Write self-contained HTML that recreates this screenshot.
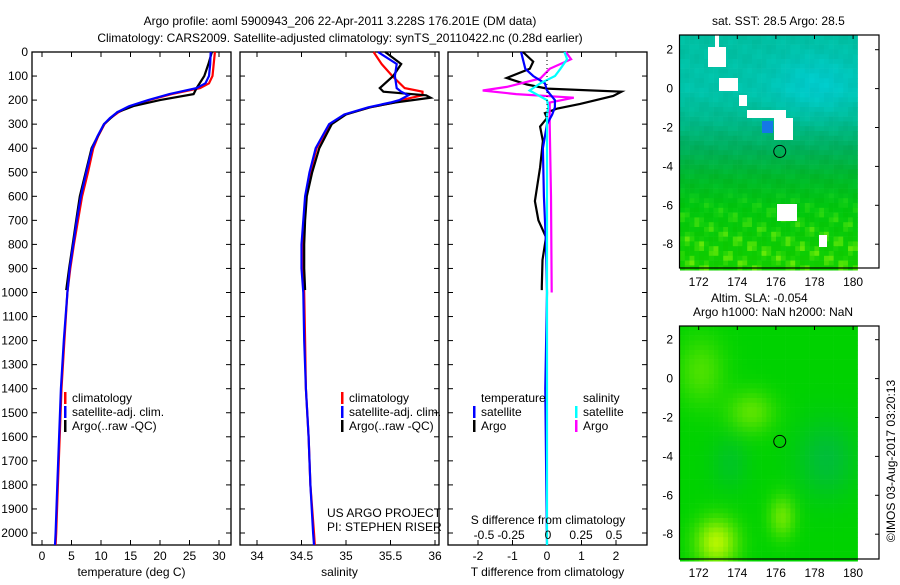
<!DOCTYPE html>
<html><head><meta charset="utf-8"><style>
body{margin:0;background:#fff;width:900px;height:580px;overflow:hidden;font-family:"Liberation Sans",sans-serif}
svg text{font-family:"Liberation Sans",sans-serif;font-size:12px;fill:#000}
</style></head><body>
<svg id="c" width="900" height="580" xmlns="http://www.w3.org/2000/svg">
<text x="340" y="25" text-anchor="middle" font-size="13">Argo profile: aoml 5900943_206 22-Apr-2011 3.228S 176.201E (DM data)</text>
<text x="340" y="42" text-anchor="middle" font-size="13">Climatology: CARS2009. Satellite-adjusted climatology: synTS_20110422.nc (0.28d earlier)</text>
</svg>
<script>
// ---- data ----
const depthTicks=[0,100,200,300,400,500,600,700,800,900,1000,1100,1200,1300,1400,1500,1600,1700,1800,1900,2000];
const tempTicks=[0,5,10,15,20,25,30];
const salTicks=[34,34.5,35,35.5,36];
const dTTicks=[-2,-1,0,1,2];
const dSTicks=[-0.5,-0.25,0,0.25,0.5];
const tClimD=[0,50,100,130,150,175,200,225,250,275,300,350,400,500,600,700,800,900,1000,1200,1400,1600,1800,2000,2060];
const tClim=[29.3,29.1,28.9,28.3,26.8,22,18.2,15,13,11.6,10.6,9.5,8.7,7.8,6.8,6.1,5.4,4.8,4.3,3.8,3.3,3.0,2.7,2.4,2.3];
const tSat=[28.6,28.5,28.3,27.7,26.2,21.6,18.0,14.8,12.8,11.5,10.5,9.4,8.5,7.5,6.6,5.9,5.3,4.7,4.3,3.7,3.2,2.9,2.6,2.3,2.2];
const tArgoD=[0,50,100,150,175,200,225,250,300,400,500,600,700,800,900,990];
const tArgo=[28.8,28.2,27.5,26.2,25.7,20,15.5,12.8,10.5,8.4,7.4,6.4,5.8,5.2,4.6,4.1];
const sClimD=[0,50,100,150,165,180,200,210,230,260,300,400,500,600,700,800,900,1000,1200,1400,1600,1800,2000,2060];
const sClim=[35.31,35.4,35.52,35.66,35.86,35.86,35.62,35.55,35.27,34.99,34.82,34.67,34.6,34.55,34.53,34.52,34.52,34.53,34.54,34.55,34.58,34.6,34.64,34.65];
const sSat=[35.36,35.57,35.55,35.57,35.62,35.7,35.6,35.5,35.25,34.98,34.81,34.66,34.59,34.54,34.52,34.5,34.5,34.52,34.53,34.55,34.58,34.6,34.63,34.64];
const sArgoD=[0,50,100,150,165,180,190,210,230,260,300,400,500,600,700,800,900,990];
const sArgo=[35.44,35.62,35.53,35.38,35.42,35.9,35.95,35.55,35.27,35.0,34.84,34.7,34.62,34.56,34.54,34.53,34.53,34.54];
const dD=[0,30,70,100,130,160,200,230,260,300,400,600,800,1000,1400,1800,2060];
const dTSat=[-0.75,-0.7,-0.63,-0.4,-0.06,0,0.23,0.23,0.15,0,-0.12,-0.09,-0.03,0,-0.05,-0.02,0];
const dSSat=[0.13,0.15,0.1,0.06,-0.05,-0.13,0,0.01,0,0,0,0,0,0,0,0,0];
const dTArgoD=[0,40,70,108,135,152,165,183,216,235,254,275,310,370,480,620,700,770,865,975,990];
const dTArgo=[-0.7,-0.4,-0.5,-1.17,-0.58,0,2.16,1.92,0.96,0.3,-0.06,0,-0.2,-0.12,-0.2,-0.35,-0.25,-0.03,-0.13,-0.15,-0.15];
const dSArgoD=[0,30,70,110,145,160,175,190,210,300,600,1000];
const dSArgo=[0.14,0.18,0.02,-0.05,-0.3,-0.48,-0.23,0.2,0.02,0.02,0.03,0.035];

const svg=document.getElementById('c');
const NS='http://www.w3.org/2000/svg';
function mk(tag,at,parent){const e=document.createElementNS(NS,tag);for(const k in at)e.setAttribute(k,at[k]);(parent||svg).appendChild(e);return e;}
const Y=d=>52+d*0.2405;
const YB=545;
const panels=[
 {x0:32,x1:231,fx:v=>42+v*5.9,ticks:tempTicks,label:'temperature (deg C)',name:'temperature-panel'},
 {x0:240,x1:439,fx:v=>257+(v-34)*89,ticks:salTicks,label:'salinity',name:'salinity-panel'},
 {x0:448,x1:647,fx:v=>547+v*34.5,ticks:dTTicks,label:'T difference from climatology',name:'difference-panel'}];
const fS=v=>547+v*134;
panels.forEach((p,i)=>{
 const g=mk('g',{});
 
 
 const r=mk('rect',{x:p.x0,y:52,width:p.x1-p.x0,height:YB-52,fill:'none',stroke:'#000','stroke-width':1.3},g);
 
 
 depthTicks.forEach(d=>{
  mk('line',{x1:p.x0,x2:p.x0+5,y1:Y(d),y2:Y(d),stroke:'#000'},g);
  mk('line',{x1:p.x1,x2:p.x1-5,y1:Y(d),y2:Y(d),stroke:'#000'},g);
  if(i==0){const t=mk('text',{x:28,y:Y(d)+4,'text-anchor':'end'},g);t.textContent=d;
   
   }
 });
 p.ticks.forEach(v=>{const x=p.fx(v);
  mk('line',{x1:x,x2:x,y1:52,y2:57,stroke:'#000'},g);
  mk('line',{x1:x,x2:x,y1:YB,y2:YB-5,stroke:'#000'},g);
  const t=mk('text',{x:x,y:560,'text-anchor':'middle'},g);t.textContent=v;
  
  
 });
 const xl=mk('text',{x:(p.x0+p.x1)/2,y:576,'text-anchor':'middle'},g);xl.textContent=p.label;
 
 
});
function line(ds,vs,fx,col,name){
 const pts=ds.map((d,k)=>fx(vs[k]).toFixed(1)+','+Math.min(YB,Y(d)).toFixed(1)).join(' ');
 const l=mk('polyline',{points:pts,fill:'none',stroke:col,'stroke-width':2.2});
 
 
}
const P=panels;
line(tClimD,tClim,P[0].fx,'#f00','temp-climatology-line');
line(tArgoD,tArgo,P[0].fx,'#000','temp-argo-line');
line(tClimD,tSat,P[0].fx,'#00f','temp-satellite-line');
line(sClimD,sClim,P[1].fx,'#f00','sal-climatology-line');
line(sArgoD,sArgo,P[1].fx,'#000','sal-argo-line');
line(sClimD,sSat,P[1].fx,'#00f','sal-satellite-line');
line(dTArgoD,dTArgo,P[2].fx,'#000','dT-argo-line');
line(dSArgoD,dSArgo,fS,'#f0f','dS-argo-line');
line(dD,dTSat,P[2].fx,'#00f','dT-satellite-line');
line(dD,dSSat,fS,'#0ff','dS-satellite-line');
mk('line',{x1:547,x2:547,y1:52,y2:120,stroke:'#000','stroke-dasharray':'1,3'});
function leg(x,y,col,txt,name){
 if(col)mk('rect',{x:x-8,y:y-10,width:2.5,height:12,fill:col});
 const t=mk('text',{x:x,y:y});t.textContent=txt;
 
 
}
[[72,'climatology','#f00'],[72,'satellite-adj. clim.','#00f'],[72,'Argo(..raw -QC)','#000']].forEach((e,k)=>{
 leg(72,402+k*14,e[2],e[1],'legend-entry');leg(349,402+k*14,e[2],e[1],'legend-entry');});
leg(481,402,null,'temperature','legend-header');leg(583,402,null,'salinity','legend-header');
leg(481,416,'#00f','satellite','legend-entry');leg(481,430,'#000','Argo','legend-entry');
leg(583,416,'#0ff','satellite','legend-entry');leg(583,430,'#f0f','Argo','legend-entry');
leg(327,517,null,'US ARGO PROJECT','credit-text');leg(327,531,null,'PI: STEPHEN RISER','credit-text');
const st=mk('text',{x:548,y:524,'text-anchor':'middle'});st.textContent='S difference from climatology';


const sLabX=[484,511,548,581,614];
dSTicks.forEach((v,k)=>{const t=mk('text',{x:sLabX[k],y:539,'text-anchor':'middle'});t.textContent=v;
 
 });

// ---- maps ----
const lonTicks=[172,174,176,178,180];
const latTicks=[2,0,-2,-4,-6,-8];
function lerp(a,b,t){return a.map((v,i)=>v+(b[i]-v)*t);}
function sstColor(lat,lon,n){
 const stops=[[3,[0,190,160]],[0,[0,195,170]],[-1.5,[0,185,140]],[-3,[0,175,90]],[-4.5,[0,185,40]],[-6,[0,200,15]],[-9.5,[20,210,0]]];
 let c=stops[stops.length-1][1];
 for(let i=0;i<stops.length-1;i++){if(lat<=stops[i][0]&&lat>=stops[i+1][0]){c=lerp(stops[i][1],stops[i+1][1],(stops[i][0]-lat)/(stops[i][0]-stops[i+1][0]));break;}}
 if(lat>3)c=stops[0][1];
 const cy=Math.exp(-((lon-178)**2/5+(lat-0.3)**2/2.5));
 c=lerp(c,[0,205,215],cy*0.7);
 if(lat<-5){const y=Math.max(0,n)*Math.min(1,(-5-lat)/3);c=lerp(c,[130,235,0],y*0.8);}
 return `rgb(${Math.round(c[0])},${Math.round(c[1]+n*5)},${Math.max(0,Math.round(c[2]+n*6))})`;
}
function map(y0,y1,zeroY,kind,name){
 const g=mk('g',{});
 
 
 const LX=v=>698.7+(v-172)*19.3, LY=v=>zeroY-v*19.45;
 const cw=4.8,ch=4.8;
 for(let yy=y0;yy<y1;yy+=ch)for(let xx=680;xx<855;xx+=cw){
  const lat=(zeroY-yy)/19.45, lon=172+(xx-698.7)/19.3;
  const n=Math.sin(xx*0.37+yy*0.21)*0.5+Math.sin(xx*0.13-yy*0.29)*0.5;
  let c;
  if(kind==0){ c=sstColor(lat,lon,n); }
  else{
   let h=0.3*Math.exp(-((lon-174.6)**2/1.5+(lat+1.6)**2/1.2))+0.6*Math.exp(-((lon-172.8)**2/1.2+(lat+8.3)**2/1.5))+0.35*Math.exp(-((lon-176.2)**2/0.5+(lat+7)**2/1.2))+0.25*Math.exp(-((lon-172)**2/1.5+(lat-0.5)**2/3));
   let lo=0.4*Math.exp(-((lon-178.5)**2/2.5+(lat+4)**2/4))+0.25*Math.exp(-((lon-173.5)**2/1+(lat+4.2)**2/2));
   c=`rgb(${Math.round(h*300)},${Math.round(210+h*60-lo*50)},${Math.round(lo*140)})`;
  }
  mk('rect',{x:xx.toFixed(1),y:yy.toFixed(1),width:cw+0.3,height:ch+0.3,fill:c},g);
 }
 if(kind==0){
  [[715,35,4,12],[708,47,18,20],[719,78,19,13],[739,95,8,11],[747,110,39,8],[774,118,19,22],[777,204,20,17],[819,235,8,12]].forEach(a=>
   mk('rect',{x:a[0],y:a[1],width:a[2],height:a[3],fill:'#fff'},g));
  mk('rect',{x:762,y:121,width:11,height:12,fill:'#1478e6'},g);
 }
 mk('circle',{cx:LX(176.2),cy:LY(-3.23),r:6,fill:'none',stroke:'#000'},g);
 mk('rect',{x:679.5,y:y0,width:199.5,height:y1-y0,fill:'none',stroke:'#000','stroke-width':1.2},g);
 lonTicks.forEach(v=>{mk('line',{x1:LX(v),x2:LX(v),y1:y0,y2:y0+4,stroke:'#000'},g);
  const t=mk('text',{x:LX(v),y:y1+18,'text-anchor':'middle'},g);t.textContent=v;
  
  });
 latTicks.forEach(v=>{mk('line',{x1:879,x2:875,y1:LY(v),y2:LY(v),stroke:'#000'},g);
  const t=mk('text',{x:673,y:LY(v)+4,'text-anchor':'end'},g);t.textContent=v;
  
  });
}
map(35,268,88.6,0,'sst-map');
map(326,559,378.6,1,'sla-map');
leg(712,25,null,'sat. SST: 28.5 Argo: 28.5','sst-map-title');
leg(711,302,null,'Altim. SLA: -0.054','sla-map-title');
leg(693,316,null,'Argo h1000: NaN h2000: NaN','sla-map-subtitle');
const cp=mk('text',{x:895,y:461,'text-anchor':'middle',transform:'rotate(-90 895 461)'});cp.textContent='©IMOS 03-Aug-2017 03:20:13';


</script>
</body></html>
